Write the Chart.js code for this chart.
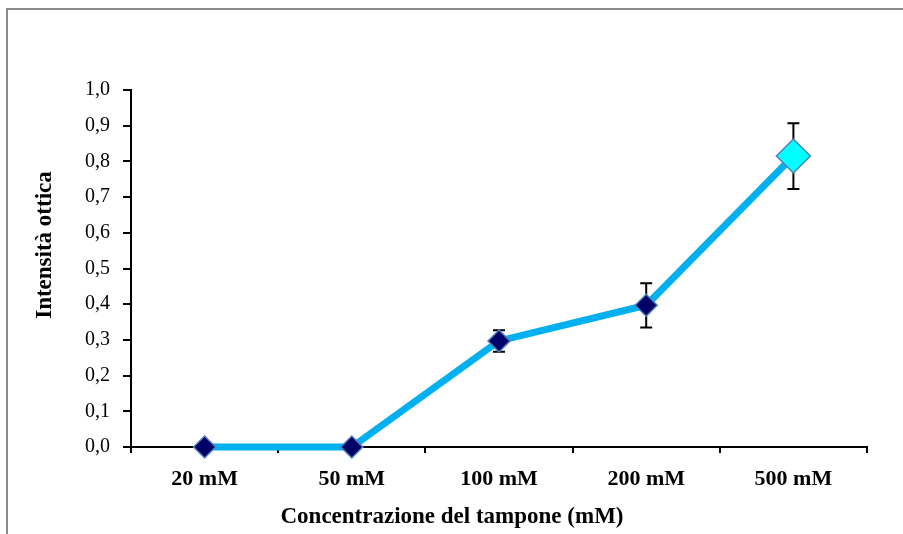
<!DOCTYPE html>
<html>
<head>
<meta charset="utf-8">
<script src="https://cdn.jsdelivr.net/npm/chart.js@4.4.0/dist/chart.umd.min.js"></script>
<style>
    html, body { margin: 0; padding: 0; background: #fff; overflow: hidden; }
    #wrap { position: relative; width: 903px; height: 534px; }
    #frame {
        position: absolute; left: 6px; top: 8px;
        width: 1000px; height: 1000px;
        border: 2px solid #8c8c8c;
    }
    #opticChart { position: absolute; left: 0; top: 0; }
</style>
</head>
<body>
<div id="wrap">
    <div id="frame"></div>
    <canvas id="opticChart" width="903" height="534"></canvas>
</div>
<script>
// Data
const categories = ['20 mM', '50 mM', '100 mM', '200 mM', '500 mM'];
const intensity = [0, 0, 0.297, 0.397, 0.815];
const errorPlusMinus = [0, 0, 0.03, 0.062, 0.092];
const yTicks = [0, 0.1, 0.2, 0.3, 0.4, 0.5, 0.6, 0.7, 0.8, 0.9, 1.0];

const yTitle = 'Intensità ottica';
const xTitle = 'Concentrazione del tampone (mM)';

const serif = '"Liberation Serif", "Times New Roman", serif';

// Error bars, drawn from the scales, under the markers
const errorBars = {
    id: 'errorBars',
    beforeDatasetsDraw(chart) {
        const ctx = chart.ctx;
        const y = chart.scales.y;
        const meta = chart.getDatasetMeta(0);
        ctx.save();
        ctx.strokeStyle = '#000';
        ctx.lineWidth = 2;
        meta.data.forEach((pt, i) => {
            const e = errorPlusMinus[i];
            if (!e) return;
            const top = y.getPixelForValue(intensity[i] + e);
            const bot = y.getPixelForValue(intensity[i] - e);
            ctx.beginPath();
            ctx.moveTo(pt.x, top); ctx.lineTo(pt.x, bot);
            ctx.moveTo(pt.x - 6, top); ctx.lineTo(pt.x + 6, top);
            ctx.moveTo(pt.x - 6, bot); ctx.lineTo(pt.x + 6, bot);
            ctx.stroke();
        });
        ctx.restore();
    }
};

// Axis titles (Excel puts them off-centre)
const axisTitles = {
    id: 'axisTitles',
    afterDraw(chart) {
        const ctx = chart.ctx;
        ctx.save();
        ctx.fillStyle = '#000';
        ctx.font = 'bold 23px ' + serif;
        ctx.textAlign = 'center';
        ctx.textBaseline = 'middle';
        ctx.fillText(xTitle, 452, 517);
        ctx.translate(45, 245);
        ctx.rotate(-Math.PI / 2);
        ctx.fillText(yTitle, 0, 0);
        ctx.restore();
    }
};

const ctx = document.getElementById('opticChart').getContext('2d');
const opticChart = new Chart(ctx, {
    type: 'line',
    data: {
        labels: categories,
        datasets: [{
            data: intensity,
            clip: false,
            borderColor: '#00B0F0',
            borderWidth: 7,
            tension: 0,
            pointStyle: 'rectRot',
            pointRadius: c => c.dataIndex === 4 ? 17 : 11,
            pointBackgroundColor: c => c.dataIndex === 4 ? '#00FFFF' : '#000066',
            pointBorderColor: '#4F81BD',
            pointBorderWidth: 1.5
        }]
    },
    options: {
        responsive: false,
        animation: false,
        layout: {
            padding: { top: 90, right: 36, left: 0, bottom: 0 }
        },
        plugins: {
            legend: { display: false },
            tooltip: { enabled: false }
        },
        scales: {
            x: {
                type: 'category',
                offset: true,
                afterFit: s => { s.height = 87; },
                grid: {
                    offset: true,
                    drawOnChartArea: false,
                    drawTicks: true,
                    tickLength: 6,
                    tickColor: '#000',
                    lineWidth: 2
                },
                border: { display: true, color: '#000', width: 2 },
                ticks: {
                    color: '#000',
                    padding: 13,
                    maxRotation: 0,
                    font: { family: serif, size: 22, weight: 'bold' }
                }
            },
            y: {
                min: 0,
                max: 1,
                afterFit: s => { s.width = 131; },
                afterBuildTicks: s => { s.ticks = yTicks.map(v => ({ value: v })); },
                grid: {
                    drawOnChartArea: false,
                    drawTicks: true,
                    tickLength: 8,
                    tickColor: '#000',
                    lineWidth: 2
                },
                border: { display: true, color: '#000', width: 2 },
                ticks: {
                    color: '#000',
                    padding: 13,
                    font: { family: serif, size: 20 },
                    callback: v => v.toFixed(1).replace('.', ',')
                }
            }
        }
    },
    plugins: [errorBars, axisTitles]
});
</script>
</body>
</html>
